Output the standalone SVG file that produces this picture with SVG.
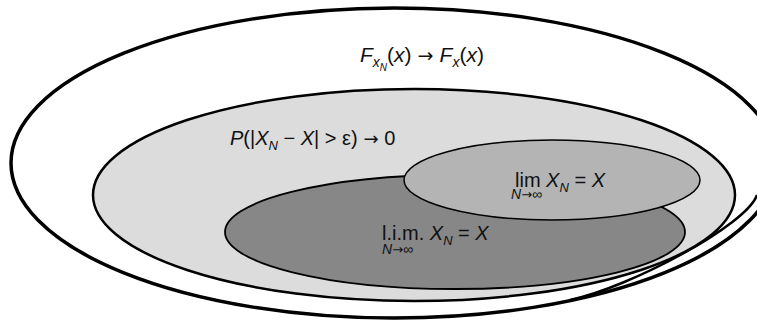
<svg xmlns="http://www.w3.org/2000/svg" width="757" height="324" viewBox="0 0 757 324">
<style>
text{font-family:"Liberation Sans",Arial,sans-serif;fill:#111}
.i{font-style:italic}
.a{font-family:"DejaVu Sans",sans-serif}
.e{stroke:#000}
</style>
<rect width="757" height="324" fill="#fff"/>
<g id="outer">
<ellipse class="e" cx="394" cy="163" rx="383" ry="155" fill="#fff" stroke-width="3.5"/>
<path class="e" d="M 757 195 C 747 225, 630 287.4, 570 300" fill="none" stroke-width="2.5"/>
<text x="360" y="62" font-size="21"><tspan class="i">F</tspan><tspan class="i" font-size="14" dy="5">x</tspan><tspan class="i" font-size="10" dy="4">N</tspan><tspan dy="-9">(</tspan><tspan class="i">x</tspan>)<tspan class="a" font-size="19"> → </tspan><tspan class="i">F</tspan><tspan class="i" font-size="14" dy="5">x</tspan><tspan dy="-5">(</tspan><tspan class="i">x</tspan>)</text>
</g>
<g id="prob">
<ellipse class="e" cx="414" cy="195" rx="321" ry="106" fill="#dcdcdc" stroke-width="2.5"/>
<text x="230" y="145" font-size="20"><tspan class="i">P</tspan>(|<tspan class="i">X</tspan><tspan class="i" font-size="13" dy="5">N</tspan><tspan dy="-5"> − </tspan><tspan class="i">X</tspan>| &gt; ε)<tspan class="a" font-size="18"> → </tspan>0</text>
</g>
<g id="ms">
<ellipse class="e" cx="455" cy="232" rx="230" ry="57" fill="#878787" stroke-width="1.8"/>
<text x="382" y="240" font-size="20">l.i.m. <tspan class="i">X</tspan><tspan class="i" font-size="13" dy="5">N</tspan><tspan dy="-5"> = </tspan><tspan class="i">X</tspan></text>
<text x="382" y="254" font-size="14"><tspan class="i">N</tspan><tspan class="a" font-size="13">→</tspan>∞</text>
</g>
<g id="as">
<ellipse class="e" cx="552" cy="180" rx="148" ry="40" fill="#b4b4b4" stroke-width="1.5"/>
<text x="515" y="187" font-size="20">lim <tspan class="i">X</tspan><tspan class="i" font-size="13" dy="5">N</tspan><tspan dy="-5"> = </tspan><tspan class="i">X</tspan></text>
<text x="511" y="199" font-size="14"><tspan class="i">N</tspan><tspan class="a" font-size="13">→</tspan>∞</text>
</g>
</svg>
